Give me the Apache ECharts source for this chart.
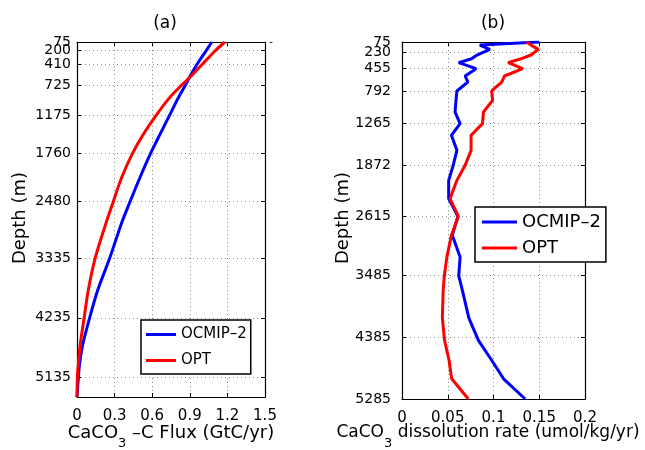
<!DOCTYPE html>
<html><head><meta charset="utf-8">
<script src="https://cdn.jsdelivr.net/npm/echarts@6/dist/echarts.min.js"></script>
<style>html,body{margin:0;padding:0;background:#fff}#c{width:645px;height:450px}</style>
</head><body><div id="c"></div>
<script>
// ---- data ----
const seriesNames = ['OCMIP–2', 'OPT'];
const depthTicksA = [75, 200, 410, 725, 1175, 1760, 2480, 3335, 4235, 5135];
const depthTicksB = [75, 230, 455, 792, 1265, 1872, 2615, 3485, 4385, 5285];

const depthA = [75, 200, 410, 600, 725, 925, 1175, 1475, 1760, 2130, 2480, 2815, 3335, 3820, 4235, 4620, 4925, 5135, 5430];
const ocmipA = [1.075, 1.033, 0.958, 0.900, 0.865, 0.806, 0.740, 0.660, 0.586, 0.500, 0.424, 0.354, 0.261, 0.165, 0.101, 0.048, 0.021, 0.011, 0];
const optA   = [1.180, 1.107, 1.000, 0.905, 0.835, 0.734, 0.634, 0.527, 0.442, 0.354, 0.290, 0.230, 0.145, 0.090, 0.057, 0.027, 0.011, 0.003, 0];

const depthB = [75, 120, 182, 265, 320, 376, 464, 571, 659, 790, 926, 1097, 1266, 1437, 1656, 1873, 2094, 2361, 2620, 2897, 3214, 3485, 3700, 4100, 4430, 4720, 4990, 5285];
const ocmipB = [0.150, 0.085, 0.096, 0.082, 0.076, 0.062, 0.081, 0.069, 0.072, 0.060, 0.059, 0.058, 0.0635, 0.054, 0.060, 0.056, 0.051, 0.051, 0.061, 0.055, 0.0635, 0.062, 0.066, 0.073, 0.0835, 0.098, 0.111, 0.1346];
const optB   = [0.136, 0.141, 0.149, 0.141, 0.130, 0.116, 0.132, 0.112, 0.109, 0.098, 0.099, 0.089, 0.088, 0.0755, 0.0755, 0.069, 0.060, 0.0525, 0.0616, 0.054, 0.049, 0.0463, 0.045, 0.0441, 0.0465, 0.0514, 0.0543, 0.0725];

// ---- chart ----
const FONT = 'DejaVu Sans';
const BLUE = '#0000ff', RED = '#ff0000';
const chart = echarts.init(document.getElementById('c'), null, {renderer: 'canvas'});

const axLine = {show: true, onZero: false, lineStyle: {color: '#000', width: 1.2}};
const dotted = {show: true, lineStyle: {color: '#8c8c8c', width: 1, type: [1, 3]}};

function xAx(grid, max, interval, pos, labels) {
  return {
    type: 'value', gridIndex: grid, min: 0, max: max, interval: interval, position: pos,
    axisLine: axLine,
    axisTick: {show: true, inside: true, length: 4, lineStyle: {color: '#000'}},
    axisLabel: {show: labels, fontFamily: FONT, fontSize: 15, color: '#000', margin: 12,
      showMinLabel: true, showMaxLabel: true, hideOverlap: false},
    splitLine: labels ? dotted : {show: false}
  };
}
// main depth axis: ticks + grid lines at all tick depths, labels except the topmost one
function yAx(grid, max, ticks, pos, labels, margin) {
  return {
    type: 'value', gridIndex: grid, min: 75, max: max, inverse: true, position: pos,
    axisLine: axLine,
    axisTick: {show: true, inside: true, length: 4, customValues: ticks, lineStyle: {color: '#000'}},
    axisLabel: {show: labels, customValues: ticks.slice(1), fontFamily: FONT, fontSize: 14, color: '#000', margin: margin,
      showMinLabel: true, showMaxLabel: true, hideOverlap: false, formatter: v => String(v)},
    splitLine: labels ? dotted : {show: false}
  };
}
// companion axis that only carries the topmost depth label
function yTop(grid, max, ticks, margin) {
  return {
    type: 'value', gridIndex: grid, min: 75, max: max, inverse: true, position: 'left',
    axisLine: {show: false}, axisTick: {show: false}, splitLine: {show: false},
    axisLabel: {show: true, customValues: ticks.slice(0, 1), fontFamily: FONT, fontSize: 14, color: '#000', margin: margin,
      showMinLabel: true, hideOverlap: false, formatter: v => String(v)}
  };
}
function line(name, xs, ys, gi, color, smooth) {
  return {
    type: 'line', name: name, xAxisIndex: gi * 2, yAxisIndex: gi * 2,
    data: ys.map((d, i) => [xs[i], d]),
    showSymbol: false, smooth: smooth, clip: true,
    lineStyle: {color: color, width: 3}, itemStyle: {color: color}, z: 3
  };
}
function legend(left, top, fs, iw, pad, gap) {
  return {
    orient: 'vertical', left: left, top: top, icon: 'rect', itemWidth: iw, itemHeight: 3,
    itemGap: gap, padding: pad, borderColor: '#000', borderWidth: 1.5, backgroundColor: '#fff',
    selectedMode: false, data: seriesNames,
    textStyle: {fontFamily: FONT, fontSize: fs, color: '#000'}
  };
}
function label(x, y, text, fs, rot, align) {
  return {type: 'text', x: x, y: y, rotation: rot || 0,
    style: {text: text, fontFamily: FONT, fontSize: fs, fill: '#000', align: align || 'center', verticalAlign: 'middle'}};
}
const measureCtx = document.createElement('canvas').getContext('2d');
function textWidth(t, fs) { measureCtx.font = fs + 'px "' + FONT + '"'; return measureCtx.measureText(t).width; }
function subLabel(cx, cy, pre, sub, post, fs, sfs) {
  const w1 = textWidth(pre, fs), w2 = textWidth(sub, sfs), w3 = textWidth(post, fs);
  const x0 = cx - (w1 + w2 + w3) / 2;
  return [
    label(x0, cy, pre, fs, 0, 'left'),
    label(x0 + w1, cy + 11, sub, sfs, 0, 'left'),
    label(x0 + w1 + w2, cy, post, fs, 0, 'left')
  ];
}

chart.setOption({
  backgroundColor: '#fff',
  animation: false,
  grid: [
    {left: 77, top: 42, width: 188, height: 355, containLabel: false},
    {left: 402, top: 42, width: 183, height: 357, containLabel: false}
  ],
  xAxis: [
    xAx(0, 1.5, 0.3, 'bottom', true), xAx(0, 1.5, 0.3, 'top', false),
    xAx(1, 0.2, 0.05, 'bottom', true), xAx(1, 0.2, 0.05, 'top', false)
  ],
  yAxis: [
    yAx(0, 5430, depthTicksA, 'left', true, 6), yAx(0, 5430, depthTicksA, 'right', false, 6),
    yAx(1, 5285, depthTicksB, 'left', true, 11), yAx(1, 5285, depthTicksB, 'right', false, 11),
    yTop(0, 5430, depthTicksA, 6), yTop(1, 5285, depthTicksB, 11)
  ],
  legend: [
    legend(141, 320, 15, 30, [7, 4, 6, 5], 11),
    legend(475, 207, 18, 35, [6, 5, 5, 7], 8)
  ],
  series: [
    line(seriesNames[0], ocmipA, depthA, 0, BLUE, 0.3),
    line(seriesNames[1], optA, depthA, 0, RED, 0.3),
    line(seriesNames[0], ocmipB, depthB, 1, BLUE, false),
    line(seriesNames[1], optB, depthB, 1, RED, false)
  ],
  graphic: [
    label(165, 24, '(a)', 17),
    label(493, 24, '(b)', 17),
    label(20, 218, 'Depth (m)', 18, Math.PI / 2),
    label(343, 218, 'Depth (m)', 18, Math.PI / 2),
    label(271, 42, '-', 11)
  ].concat(
    subLabel(171, 433, 'CaCO', '3', ' –C Flux (GtC/yr)', 18, 13),
    subLabel(488, 433, 'CaCO', '3', ' dissolution rate (umol/kg/yr)', 17, 13)
  )
});
</script></body></html>
